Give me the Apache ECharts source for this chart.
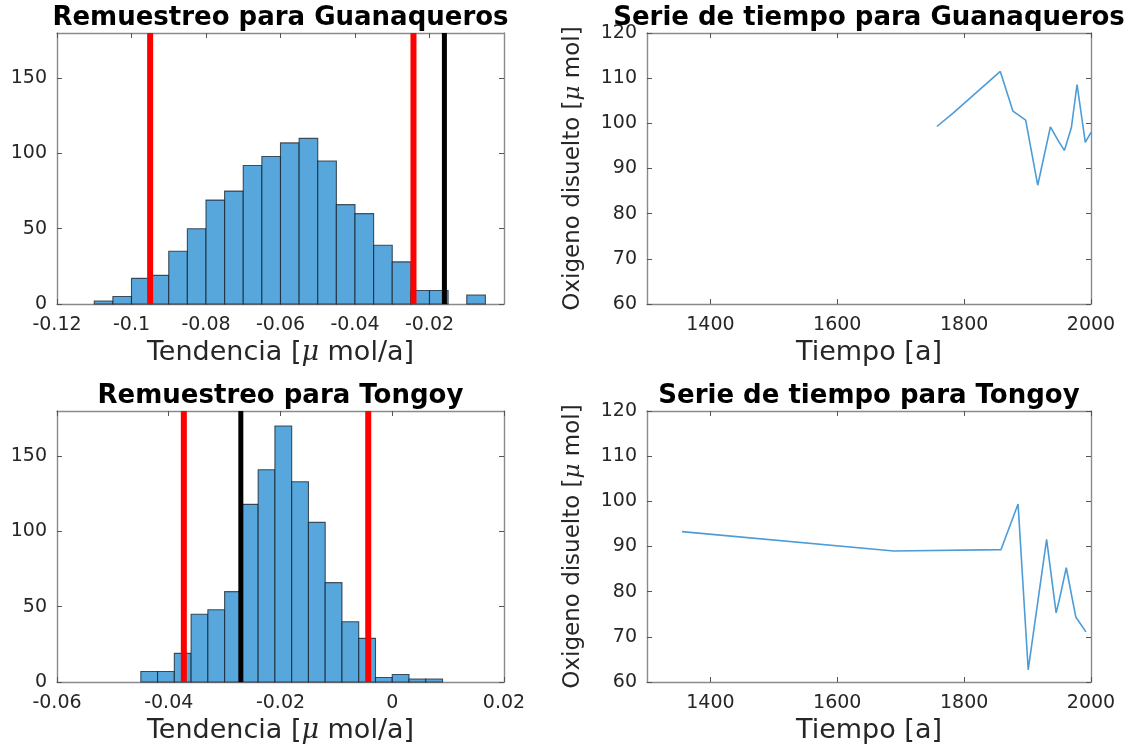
<!DOCTYPE html>
<html><head><meta charset="utf-8">
<script src="https://cdn.jsdelivr.net/npm/echarts@6/dist/echarts.min.js"></script>
<style>html,body{margin:0;padding:0;background:#fff}#c{width:1136px;height:751px}</style>
</head><body><div id="c"></div>
<script>
// ---- data ----
const guanEdges = [-0.110,-0.105,-0.100,-0.095,-0.090,-0.085,-0.080,-0.075,-0.070,-0.065,-0.060,-0.055,-0.050,-0.045,-0.040,-0.035,-0.030,-0.025,-0.020,-0.015,-0.010,-0.005];
const guanCounts = [2,5,17,19,35,50,69,75,92,98,107,110,95,66,60,39,28,9,9,0,6];
const guanCI = [-0.0950,-0.0243];
const guanObs = -0.0160;
const tongEdges = [-0.045,-0.042,-0.039,-0.036,-0.033,-0.030,-0.027,-0.024,-0.021,-0.018,-0.015,-0.012,-0.009,-0.006,-0.003,0.000,0.003,0.006,0.009];
const tongCounts = [7,7,19,45,48,60,118,141,170,133,106,66,40,29,3,5,2,2];
const tongCI = [-0.0373,-0.0043];
const tongObs = -0.0271;
const guanYears = [1757,1783,1857,1877,1897,1916,1936,1949,1958,1969,1978,1991,2000];
const guanO2 = [99.3,102.3,111.5,102.7,100.7,86.3,99.2,96.0,94.0,99.0,108.6,95.8,98.0];
const tongYears = [1355,1689,1858,1885,1901,1930,1945,1951,1961,1976,1992];
const tongO2 = [93.3,89.0,89.3,99.4,62.7,91.6,75.3,78.8,85.3,74.4,71.1];
const histTicksGuan = [-0.12,-0.1,-0.08,-0.06,-0.04,-0.02];
const histTicksTong = [-0.06,-0.04,-0.02,0,0.02];
const countTicks = [0,50,100,150];
const yearTicks = [1400,1600,1800,2000];
const o2Ticks = [60,70,80,90,100,110,120];
const countMax = 180;

const titles = ['Remuestreo para Guanaqueros','Serie de tiempo para Guanaqueros','Remuestreo para Tongoy','Serie de tiempo para Tongoy'];

// ---- styling ----
const FONT = 'DejaVu Sans';
const axisColor = '#8a8a8a';
const txtColor = '#262626';
const grids = [
  {left:57, top:33, width:447, height:271},
  {left:647, top:33, width:444, height:271},
  {left:57, top:411, width:447, height:271},
  {left:647, top:411, width:444, height:271}
];
const xLims = [[-0.12,0],[1300,2000],[-0.06,0.02],[1300,2000]];
const yLims = [[0,countMax],[60,120],[0,countMax],[60,120]];
const xTicks = [histTicksGuan, yearTicks, histTicksTong, yearTicks];
const yTicks = [countTicks, o2Ticks, countTicks, o2Ticks];
const muRich = {
  mu:{fontFamily:'DejaVu Serif', fontStyle:'italic', fontSize:27, color:txtColor}
};
const muRichY = {
  mu:{fontFamily:'DejaVu Serif', fontStyle:'italic', fontSize:23, color:txtColor}
};
const xNames = ['Tendencia [{mu|μ} mol/a]','Tiempo [a]','Tendencia [{mu|μ} mol/a]','Tiempo [a]'];
const yNames = ['','Oxigeno disuelto [{mu|μ} mol]','','Oxigeno disuelto [{mu|μ} mol]'];
const plainNum = v => String(v);

function baseAxis(){
  return {
    type:'value',
    axisLine:{show:true, onZero:false, lineStyle:{color:axisColor, width:1.4}},
    splitLine:{show:false}
  };
}
function ticks(vals){
  return {show:true, inside:true, length:5, customValues:vals, lineStyle:{color:'#555', width:1}};
}
const xAxes = [], yAxes = [];
for (let i=0;i<4;i++){
  xAxes.push(Object.assign(baseAxis(), {
    gridIndex:i, position:'bottom', min:xLims[i][0], max:xLims[i][1],
    axisTick:ticks(xTicks[i]),
    axisLabel:{show:true, customValues:xTicks[i], formatter:plainNum, margin:12, fontFamily:FONT, fontSize:19, color:txtColor},
    name:xNames[i], nameLocation:'middle', nameGap:35,
    nameTextStyle:{fontFamily:FONT, fontSize:27, color:txtColor, rich:muRich}
  }));
  yAxes.push(Object.assign(baseAxis(), {
    gridIndex:i, position:'left', min:yLims[i][0], max:yLims[i][1],
    axisTick:ticks(yTicks[i]),
    axisLabel:{show:true, customValues:yTicks[i], formatter:plainNum, margin:10, fontFamily:FONT, fontSize:19, color:txtColor},
    name:yNames[i], nameLocation:'middle', nameGap:62,
    nameTextStyle:{fontFamily:FONT, fontSize:23, color:txtColor, rich:muRichY}
  }));
}
for (let i=0;i<4;i++){
  xAxes.push(Object.assign(baseAxis(), {
    gridIndex:i, position:'top', min:xLims[i][0], max:xLims[i][1],
    axisTick:ticks(xTicks[i]), axisLabel:{show:false}
  }));
  yAxes.push(Object.assign(baseAxis(), {
    gridIndex:i, position:'right', min:yLims[i][0], max:yLims[i][1],
    axisTick:ticks(yTicks[i]), axisLabel:{show:false}
  }));
}

function histSeries(edges, counts, axisIdx){
  return {
    type:'custom', xAxisIndex:axisIdx, yAxisIndex:axisIdx, z:2,
    encode:{x:[0,1], y:2},
    data: counts.map((c,i)=>[edges[i], edges[i+1], c]),
    renderItem:(params, api)=>{
      const h = api.value(2);
      if (!h) return null;
      const p0 = api.coord([api.value(0), 0]);
      const p1 = api.coord([api.value(1), h]);
      return {type:'rect', shape:{x:p0[0], y:p1[1], width:p1[0]-p0[0], height:p0[1]-p1[1]},
        style:{fill:'#57a7dc', stroke:'rgba(20,30,40,0.75)', lineWidth:1.1}};
    }
  };
}
function vline(v, color, width, axisIdx){
  return {type:'line', xAxisIndex:axisIdx, yAxisIndex:axisIdx, z:5, silent:true,
    symbol:'none', data:[[v,0],[v,countMax]], lineStyle:{color:color, width:width}};
}
function tsSeries(xs, ys, axisIdx){
  return {type:'line', xAxisIndex:axisIdx, yAxisIndex:axisIdx, symbol:'none', z:3,
    data: xs.map((x,i)=>[x, ys[i]]), lineStyle:{color:'#4c9cd8', width:1.6}};
}

const series = [
  histSeries(guanEdges, guanCounts, 0),
  vline(guanCI[0], '#ff0000', 6, 0), vline(guanCI[1], '#ff0000', 6, 0), vline(guanObs, '#000000', 5, 0),
  tsSeries(guanYears, guanO2, 1),
  histSeries(tongEdges, tongCounts, 2),
  vline(tongCI[0], '#ff0000', 6, 2), vline(tongCI[1], '#ff0000', 6, 2), vline(tongObs, '#000000', 5, 2),
  tsSeries(tongYears, tongO2, 3)
];

const title = titles.map((t,i)=>({
  text:t, left: grids[i].left + grids[i].width/2, textAlign:'center',
  top: i<2 ? 5 : 383, padding:0,
  textStyle:{fontFamily:FONT, fontWeight:'bold', fontSize:26, color:'#000'}
}));

const chart = echarts.init(document.getElementById('c'), null, {renderer:'canvas'});
chart.setOption({
  backgroundColor:'#ffffff',
  animation:false,
  title: title,
  grid: grids,
  xAxis: xAxes,
  yAxis: yAxes,
  series: series
});
</script></body></html>
